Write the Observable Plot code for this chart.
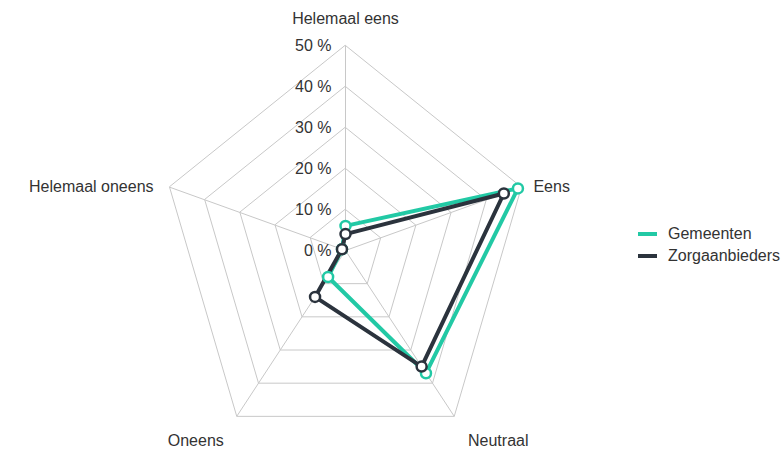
<!DOCTYPE html>
<html>
<head>
<meta charset="utf-8">
<script src="https://cdn.jsdelivr.net/npm/d3@7"></script>
<script src="https://cdn.jsdelivr.net/npm/@observablehq/plot@0.6"></script>
<style>
  html, body { margin: 0; padding: 0; background: #fff; overflow: hidden; }
  #wrap { position: relative; width: 781px; height: 450px; }
  #legend { position: absolute; left: 638px; top: 223px; font-family: "Liberation Sans", Arial, sans-serif; font-size: 16px; color: #333; }
  #legend .item { display: flex; align-items: center; height: 22px; }
  #legend .sw { width: 19px; height: 4px; margin-right: 11px; }
</style>
</head>
<body>
<div id="wrap"><div id="legend"></div></div>
<script>
const categories = ["Helemaal eens", "Eens", "Neutraal", "Oneens", "Helemaal oneens"];
const gemeenten = [6, 49, 37, 8, 1];
const zorgaanbieders = [4, 45, 35, 14, 1];
const ringValues = [10, 20, 30, 40, 50];
const tickValues = [0, 10, 20, 30, 40, 50];
const tickLabels = ["0 %", "10 %", "20 %", "30 %", "40 %", "50 %"];
const seriesNames = ["Gemeenten", "Zorgaanbieders"];
const seriesColors = ["#22c9a5", "#2b333d"];

const maxV = 50;
const n = categories.length;
const ang = i => i * 2 * Math.PI / n;
const px = (v, i) => (v / maxV) * Math.sin(ang(i));
const py = (v, i) => (v / maxV) * Math.cos(ang(i));

const rings = ringValues.flatMap(r => categories.map((c, i) => ({r, x: px(r, i), y: py(r, i)})));
const spokes = categories.map((c, i) => ({x: px(maxV, i), y: py(maxV, i)}));
const series = [gemeenten, zorgaanbieders].map((vals, s) =>
  vals.map((v, i) => ({name: seriesNames[s], x: px(v, i), y: py(v, i)})));
const ticksData = tickValues.map((v, k) => ({x: 0, y: v / maxV, label: tickLabels[k]}));

const labelStyle = [
  {textAnchor: "middle", dx: 0, dy: -27},
  {textAnchor: "start", dx: 12, dy: 0},
  {textAnchor: "middle", dx: 44, dy: 25},
  {textAnchor: "middle", dx: -41, dy: 25},
  {textAnchor: "end", dx: -16, dy: 0}
];

const font = "Liberation Sans, Arial, sans-serif";
const textColor = "#333";

const plot = Plot.plot({
  width: 781,
  height: 450,
  x: {domain: [-1, 1], range: [160, 530], axis: null},
  y: {domain: [-1, 1], range: [455, 45], axis: null},
  style: {fontFamily: font, fontSize: "16px", background: "transparent", overflow: "visible"},
  marks: [
    Plot.line(rings, {x: "x", y: "y", z: "r", curve: "linear-closed", stroke: "#c8c8c8", strokeWidth: 1}),
    Plot.link(spokes, {x1: 0, y1: 0, x2: "x", y2: "y", stroke: "#c8c8c8", strokeWidth: 1}),
    ...series.map((d, s) => Plot.line(d, {x: "x", y: "y", curve: "linear-closed", stroke: seriesColors[s], strokeWidth: 4, strokeLinejoin: "round"})),
    ...series.map((d, s) => Plot.dot(d, {x: "x", y: "y", r: 5, fill: "white", stroke: seriesColors[s], strokeWidth: 2.5})),
    Plot.text(ticksData, {x: "x", y: "y", text: "label", textAnchor: "end", dx: -14, fill: textColor, fontSize: 16}),
    ...categories.map((c, i) => Plot.text([c], {
      x: px(maxV, i), y: py(maxV, i), text: d => d,
      textAnchor: labelStyle[i].textAnchor, dx: labelStyle[i].dx, dy: labelStyle[i].dy,
      fill: textColor, fontSize: 16
    }))
  ]
});
document.getElementById("wrap").prepend(plot);

const legend = document.getElementById("legend");
seriesNames.forEach((name, s) => {
  const item = document.createElement("div");
  item.className = "item";
  const sw = document.createElement("span");
  sw.className = "sw";
  sw.style.background = seriesColors[s];
  const t = document.createElement("span");
  t.textContent = name;
  item.append(sw, t);
  legend.append(item);
});
</script>
</body>
</html>
